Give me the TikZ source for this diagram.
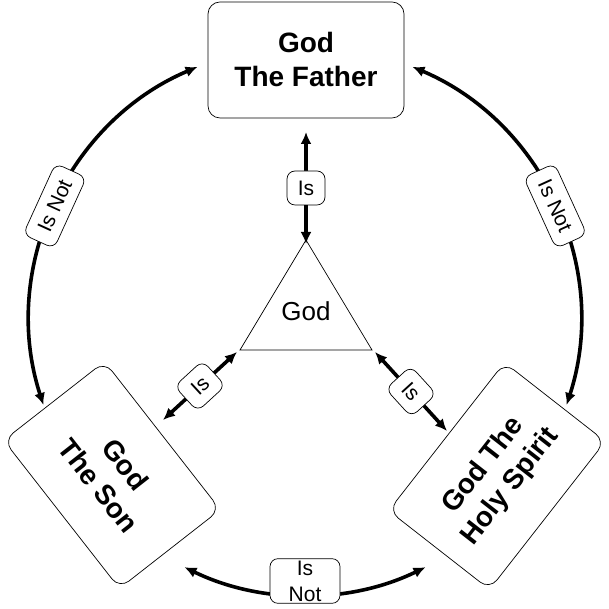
\documentclass[tikz,border=0pt]{standalone}
\usepackage{fontspec}
\setmainfont{Liberation Sans}
\usetikzlibrary{arrows.meta}
\begin{document}
\begin{tikzpicture}[x=1pt,y=1pt,
  box/.style={draw,rounded corners=12pt,minimum width=196pt,minimum height=116pt,align=center,font=\fontsize{28}{34}\selectfont\bfseries,line width=0.7pt},
  rbox/.style={box,minimum width=188pt,minimum height=128pt},
  lab/.style={draw,fill=white,rounded corners=8pt,align=center,font=\fontsize{21}{26}\selectfont,inner sep=4pt,minimum width=38pt,minimum height=34pt,line width=0.7pt},
  arr/.style={line width=3.6pt,{Latex[length=12pt,width=11pt]}-{Latex[length=12pt,width=11pt]}}]
\useasboundingbox (0,0) rectangle (608,609);
\node[box] (F) at (306,549) {God\\The Father};
\node[rbox,rotate=-52] (S) at (112,134) {God\\The Son};
\node[rbox,rotate=52] (H) at (497,133) {God The\\Holy Spirit};
\coordinate (T1) at (306,369);
\coordinate (T2) at (240,259);
\coordinate (T3) at (372,259);
\draw[line width=0.7pt] (T1) -- (T2) -- (T3) -- cycle;
\node[font=\fontsize{26}{30}\selectfont] (G) at (306,298) {God};
\coordinate (c) at (305,289);
\coordinate (FS) at (306,477);
\coordinate (SE) at (163,189);
\coordinate (HE) at (447,178);
\draw[arr] (FS) -- node[lab] {Is} ([yshift=-4pt]T1);
\draw[arr] (SE) -- node[lab,sloped] {Is} ([shift={(-3pt,-2pt)}]T2);
\draw[arr] (HE) -- node[lab,sloped] {Is} ([shift={(3pt,-2pt)}]T3);
\draw[arr] ([shift={(113:275)}]c) arc (113:198:275) node[lab,sloped,pos=0.5,minimum width=78pt] {Is Not};
\draw[arr] ([shift={(67:275)}]c) arc (67:-18:275) node[lab,sloped,pos=0.5,minimum width=78pt] {Is Not};
\draw[arr] ([shift={(244:275)}]c) arc (244:296:275) node[lab,pos=0.5,minimum width=70pt,inner sep=2pt,yshift=14pt] {Is\\Not};
\end{tikzpicture}
\end{document}
